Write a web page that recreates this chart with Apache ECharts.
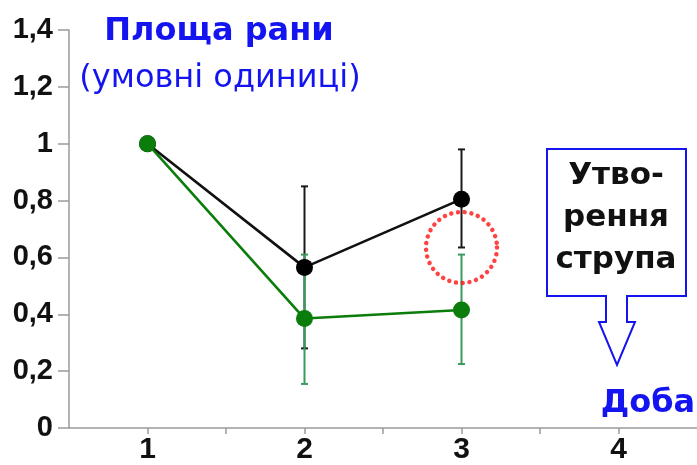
<!DOCTYPE html>
<html><head><meta charset="utf-8">
<script src="https://cdn.jsdelivr.net/npm/echarts@6/dist/echarts.min.js"></script>
<style>html,body{margin:0;padding:0;background:#fff}#c{width:697px;height:465px}</style>
</head><body><div id="c"></div>
<script>
const days = [1, 2, 3];
const blackValues = [1.0, 0.565, 0.805];
const blackLow = [null, 0.28, 0.635];
const blackHigh = [null, 0.85, 0.98];
const greenValues = [1.0, 0.385, 0.415];
const greenLow = [null, 0.155, 0.225];
const greenHigh = [null, 0.61, 0.61];
const xTickLabels = ['1', '2', '3', '4'];
const circleMark = [3, 0.635];

const BLUE = '#1414f0';
const GREEN = '#0a7d0a';
const GREEN_ERR = '#3a9a5e';

function pts(vals) { return days.map((d, i) => [d, vals[i]]); }
function errData(low, high) {
  const out = [];
  days.forEach((d, i) => { if (low[i] != null) out.push([d, low[i], high[i]]); });
  return out;
}
function errRender(color) {
  return function (params, api) {
    const x = api.value(0);
    const lo = api.coord([x, api.value(1)]);
    const hi = api.coord([x, api.value(2)]);
    const cw = 3.5;
    const style = { stroke: color, lineWidth: 2 };
    return { type: 'group', children: [
      { type: 'line', shape: { x1: lo[0], y1: lo[1], x2: hi[0], y2: hi[1] }, style },
      { type: 'line', shape: { x1: lo[0] - cw, y1: lo[1], x2: lo[0] + cw, y2: lo[1] }, style },
      { type: 'line', shape: { x1: hi[0] - cw, y1: hi[1], x2: hi[0] + cw, y2: hi[1] }, style }
    ]};
  };
}

const chart = echarts.init(document.getElementById('c'), null, { renderer: 'canvas' });
chart.setOption({
  animation: false,
  backgroundColor: '#fff',
  title: [
    { text: 'Площа рани', left: 214, top: 11, textAlign: 'center',
      textStyle: { color: BLUE, fontFamily: 'DejaVu Sans', fontWeight: 'bold', fontSize: 32 } },
    { text: '(умовні одиниці)', left: 215, top: 58, textAlign: 'center',
      textStyle: { color: BLUE, fontFamily: 'DejaVu Sans', fontWeight: 'normal', fontSize: 32 } },
    { text: 'Доба', left: 643, top: 383, textAlign: 'center',
      textStyle: { color: BLUE, fontFamily: 'DejaVu Sans', fontWeight: 'bold', fontSize: 32 } }
  ],
  grid: { left: 69, right: 0, top: 30, bottom: 32.5, containLabel: false },
  xAxis: {
    type: 'value', min: 0.5, max: 4.5, interval: 0.5,
    axisLine: { onZero: false, lineStyle: { color: '#9a9a9a', width: 1.5 } },
    axisTick: { show: true, length: 6, lineStyle: { color: '#9a9a9a', width: 1.5 } },
    splitLine: { show: false },
    axisLabel: {
      margin: 7, color: '#111', fontFamily: 'Liberation Sans', fontWeight: 'bold', fontSize: 30,
      showMinLabel: false, showMaxLabel: false,
      formatter: v => (Math.abs(v - Math.round(v)) < 1e-6 && xTickLabels.indexOf(String(Math.round(v))) >= 0) ? String(Math.round(v)) : ''
    }
  },
  yAxis: {
    type: 'value', min: 0, max: 1.4, interval: 0.2,
    axisLine: { show: true, lineStyle: { color: '#9a9a9a', width: 1.5 } },
    axisTick: { show: true, length: 11, lineStyle: { color: '#9a9a9a', width: 1.5 } },
    splitLine: { show: false },
    axisLabel: {
      margin: 16, color: '#111', fontFamily: 'Liberation Sans', fontWeight: 'bold', fontSize: 29,
      formatter: v => String(+(+v).toFixed(1)).replace('.', ',')
    }
  },
  graphic: [
    { type: 'polygon', z: 100,
      shape: { points: [[547,149],[686,149],[686,296],[627,296],[627,322],[635,322],[617,365],[599,322],[606,322],[606,296],[547,296]] },
      style: { fill: '#fff', stroke: BLUE, lineWidth: 2 } },
    { type: 'text', z: 101, x: 616, y: 155,
      style: { text: 'Утво-\nрення\nструпа', fill: '#111', font: 'bold 31px "DejaVu Sans"', align: 'center', verticalAlign: 'top', lineHeight: 42 } }
  ],
  series: [
    { type: 'custom', name: 'errBlack', renderItem: errRender('#1a1a1a'), data: errData(blackLow, blackHigh), z: 2,
      encode: { x: 0, y: [1, 2] } },
    { type: 'custom', name: 'errGreen', renderItem: errRender(GREEN_ERR), data: errData(greenLow, greenHigh), z: 3,
      encode: { x: 0, y: [1, 2] } },
    { type: 'line', name: 'black', data: pts(blackValues), symbol: 'circle', symbolSize: 17,
      lineStyle: { color: '#111', width: 2.6 }, itemStyle: { color: '#000' }, z: 4 },
    { type: 'line', name: 'green', data: pts(greenValues), symbol: 'circle', symbolSize: 17,
      lineStyle: { color: GREEN, width: 2.6 }, itemStyle: { color: GREEN }, z: 5 },
    { type: 'scatter', name: 'mark', data: [circleMark], symbol: 'circle', symbolSize: 71, z: 6,
      itemStyle: { color: 'rgba(0,0,0,0)', borderColor: '#ff1414', borderWidth: 4.5, borderType: [0.01, 6.8], borderCap: 'round' } }
  ]
});
</script></body></html>
